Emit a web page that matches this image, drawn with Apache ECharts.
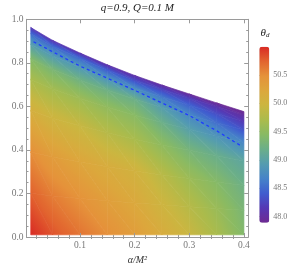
<!DOCTYPE html>
<html><head><meta charset="utf-8">
<script src="https://cdn.jsdelivr.net/npm/echarts@6/dist/echarts.min.js"></script>
<style>html,body{margin:0;padding:0;background:#fff}#c{width:291px;height:267px}</style>
</head><body><div id="c"></div>
<script>
// ---- data ----
const alphaNodes = [0.01, 0.05, 0.1, 0.15, 0.2, 0.25, 0.3, 0.35, 0.4];          // alpha/M^2 columns
const epsBoundary = [0.962, 0.903, 0.845, 0.791, 0.742, 0.698, 0.657, 0.616, 0.576]; // upper edge of the region
const EPS_BOTTOM = 0.01;
const fracLevels = [0, 0.2, 0.4, 0.6, 0.75, 0.85, 0.92, 0.97, 1.0]; // fraction of column height
const thetaA001 = [51.0, 50.75, 50.5, 50.1, 49.7, 49.4, 48.95, 48.5, 48.15];
const thetaA005 = [50.82, 50.6, 50.36, 50.0, 49.65, 49.33, 48.92, 48.5, 48.12];
const thetaA010 = [50.65, 50.47, 50.24, 49.93, 49.6, 49.25, 48.9, 48.5, 48.1];
const thetaA015 = [50.5, 50.33, 50.14, 49.8, 49.52, 49.22, 48.82, 48.4, 48.07];
const thetaA020 = [50.35, 50.2, 50.05, 49.7, 49.45, 49.2, 48.75, 48.3, 48.05];
const thetaA025 = [50.15, 50.0, 49.82, 49.5, 49.2, 48.95, 48.6, 48.25, 48.0];
const thetaA030 = [49.95, 49.8, 49.6, 49.3, 48.97, 48.72, 48.45, 48.2, 47.95];
const thetaA035 = [49.7, 49.58, 49.42, 49.18, 48.84, 48.53, 48.3, 48.1, 47.92];
const thetaA040 = [49.4, 49.33, 49.22, 49.05, 48.7, 48.35, 48.15, 48.0, 47.9];
const thetaColumns = [thetaA001, thetaA005, thetaA010, thetaA015, thetaA020, thetaA025, thetaA030, thetaA035, thetaA040];

const dashAlpha = [0.015, 0.1, 0.2, 0.3, 0.35, 0.397];
const dashEps   = [0.897, 0.785, 0.674, 0.558, 0.488, 0.415];

const xMajorTicks = [0.1, 0.2, 0.3, 0.4];
const xMinorTicks = [0.02,0.04,0.06,0.08,0.12,0.14,0.16,0.18,0.22,0.24,0.26,0.28,0.32,0.34,0.36,0.38];
const yMajorTicks = [0, 0.2, 0.4, 0.6, 0.8, 1.0];
const yMinorTicks = [0.05,0.1,0.15,0.25,0.3,0.35,0.45,0.5,0.55,0.65,0.7,0.75,0.85,0.9,0.95];
const cbTicks = [48.0, 48.5, 49.0, 49.5, 50.0, 50.5];
const TH_MIN = 47.89, TH_MAX = 51.0;
const palette = ['#6e2a92','#5538b4','#405ccf','#4683c8','#549cb0','#6aae8a','#88ba64','#aabb4c','#cbb640','#dca73c','#e5923a','#e2642f','#d92a24'];

const XMIN = 0.0022, XMAX = 0.4078;
const FONT = 'Liberation Serif';
const AX = '#9a9a9a', LABEL = '#777777';

function nodeEps(i, j) { return EPS_BOTTOM + fracLevels[j] * (epsBoundary[i] - EPS_BOTTOM); }

const nodeData = [];
for (let i = 0; i < alphaNodes.length; i++)
  for (let j = 0; j < fracLevels.length; j++)
    nodeData.push([alphaNodes[i], nodeEps(i, j), thetaColumns[i][j], i, j]);

const dashData = dashAlpha.map((a, k) => [a, dashEps[k]]);

function colorOf(v) {
  let t = (v - TH_MIN) / (TH_MAX - TH_MIN);
  t = Math.max(0, Math.min(1, t));
  return echarts.color.lerp(t, palette);
}

function triangle(pts, vals) {
  const [p1, p2, p3] = pts, [v1, v2, v3] = vals;
  const d2x = p2[0]-p1[0], d2y = p2[1]-p1[1], d3x = p3[0]-p1[0], d3y = p3[1]-p1[1];
  const dv2 = v2 - v1, dv3 = v3 - v1;
  const det = d2x*d3y - d2y*d3x;
  let fill;
  const gx = (dv2*d3y - dv3*d2y)/det, gy = (d2x*dv3 - d3x*dv2)/det;
  const g2 = gx*gx + gy*gy;
  if (!isFinite(g2) || g2 < 1e-12) {
    fill = colorOf((v1+v2+v3)/3);
  } else {
    const lo = Math.min(v1, v2, v3), hi = Math.max(v1, v2, v3);
    const sx = p1[0] + (lo - v1)/g2*gx, sy = p1[1] + (lo - v1)/g2*gy;
    const ex = p1[0] + (hi - v1)/g2*gx, ey = p1[1] + (hi - v1)/g2*gy;
    const stops = [];
    const K = 8;
    for (let k = 0; k <= K; k++) stops.push({offset: k/K, color: colorOf(lo + (hi-lo)*k/K)});
    fill = new echarts.graphic.LinearGradient(sx, sy, ex, ey, stops, true);
  }
  return { type: 'polygon', shape: { points: pts }, style: { fill: fill, stroke: fill, lineWidth: 0.7 } };
}

function renderItem(params, api) {
  const i = api.value(3), j = api.value(4);
  if (i >= alphaNodes.length - 1 || j >= fracLevels.length - 1) return null;
  const P = (ii, jj) => api.coord([alphaNodes[ii], nodeEps(ii, jj)]);
  const V = (ii, jj) => thetaColumns[ii][jj];
  const p00 = P(i, j), p10 = P(i+1, j), p01 = P(i, j+1), p11 = P(i+1, j+1);
  return { type: 'group', children: [
    triangle([p00, p10, p01], [V(i,j), V(i+1,j), V(i,j+1)]),
    triangle([p10, p11, p01], [V(i+1,j), V(i+1,j+1), V(i,j+1)])
  ]};
}

function frameAxis(base, extra) { return Object.assign({}, base, extra); }
const xBase = { gridIndex: 0, type: 'value', min: XMIN, max: XMAX, z: 5, splitLine: {show:false} };
const yBase = { gridIndex: 0, type: 'value', min: 0, max: 1, z: 5, splitLine: {show:false} };
const tickStyle = { color: AX, width: 1 };

const chart = echarts.init(document.getElementById('c'), null, { renderer: 'canvas' });
chart.setOption({
  animation: false,
  backgroundColor: '#ffffff',
  grid: [
    { left: 26.5, top: 19.3, width: 221.7, height: 217.7, containLabel: false, outerBoundsMode: 'none' },
    { left: 259.3, top: 46.7, width: 10, height: 176, containLabel: false, outerBoundsMode: 'none' }
  ],
  xAxis: [
    frameAxis(xBase, { position: 'bottom',
      axisLine: { show: true, onZero: false, lineStyle: tickStyle },
      axisTick: { show: true, inside: true, length: 4, customValues: xMajorTicks, lineStyle: tickStyle },
      axisLabel: { show: true, customValues: xMajorTicks, formatter: v => v.toFixed(1), margin: 3, color: LABEL, fontFamily: FONT, fontSize: 9.5 },
      name: 'α/M²', nameLocation: 'middle', nameGap: 17,
      nameTextStyle: { fontFamily: FONT, fontStyle: 'italic', fontSize: 10, color: '#333' } }),
    frameAxis(xBase, { position: 'bottom', axisLine: {show:false},
      axisTick: { show: true, inside: true, length: 2, customValues: xMinorTicks, lineStyle: tickStyle },
      axisLabel: { show: false } }),
    frameAxis(xBase, { position: 'top', axisLine: { show: true, onZero: false, lineStyle: tickStyle },
      axisTick: { show: true, inside: true, length: 4, customValues: xMajorTicks, lineStyle: tickStyle },
      axisLabel: { show: false } }),
    frameAxis(xBase, { position: 'top', axisLine: {show:false},
      axisTick: { show: true, inside: true, length: 2, customValues: xMinorTicks, lineStyle: tickStyle },
      axisLabel: { show: false } }),
    { gridIndex: 1, type: 'value', min: 0, max: 1, show: false }
  ],
  yAxis: [
    frameAxis(yBase, { position: 'left',
      axisLine: { show: true, onZero: false, lineStyle: tickStyle },
      axisTick: { show: true, inside: true, length: 4, customValues: yMajorTicks, lineStyle: tickStyle },
      axisLabel: { show: true, customValues: yMajorTicks, formatter: v => v.toFixed(1), margin: 3, color: LABEL, fontFamily: FONT, fontSize: 9.5 },
      name: 'ε', nameLocation: 'middle', nameGap: 17, nameRotate: 90,
      nameTextStyle: { fontFamily: FONT, fontStyle: 'italic', fontSize: 10, color: '#333' } }),
    frameAxis(yBase, { position: 'left', axisLine: {show:false},
      axisTick: { show: true, inside: true, length: 2, customValues: yMinorTicks, lineStyle: tickStyle },
      axisLabel: { show: false } }),
    frameAxis(yBase, { position: 'right', axisLine: { show: true, onZero: false, lineStyle: tickStyle },
      axisTick: { show: true, inside: true, length: 4, customValues: yMajorTicks, lineStyle: tickStyle },
      axisLabel: { show: false } }),
    frameAxis(yBase, { position: 'right', axisLine: {show:false},
      axisTick: { show: true, inside: true, length: 2, customValues: yMinorTicks, lineStyle: tickStyle },
      axisLabel: { show: false } }),
    { gridIndex: 1, type: 'value', min: TH_MIN, max: TH_MAX, position: 'right',
      axisLine: { show: false },
      axisTick: { show: true, inside: false, length: 2, customValues: cbTicks, lineStyle: tickStyle },
      axisLabel: { show: true, customValues: cbTicks, formatter: v => v.toFixed(1), margin: 4, color: LABEL, fontFamily: FONT, fontSize: 8 },
      splitLine: { show: false } }
  ],
  visualMap: [{
    type: 'continuous', seriesIndex: 0, dimension: 2,
    min: TH_MIN, max: TH_MAX, orient: 'vertical',
    left: 259.3, top: 46.7, itemWidth: 10, itemHeight: 176, padding: 0,
    calculable: false, realtime: false, text: null, showLabel: false,
    inRange: { color: palette }, hoverLink: false
  }],
  graphic: [
    { type: 'text', x: 137.4, y: 8, silent: true,
      style: { text: 'q=0.9, Q=0.1 M', fill: '#222', font: 'italic 11px "Liberation Serif"', textAlign: 'center', textVerticalAlign: 'middle' } },
    { type: 'text', x: 260.5, y: 33, silent: true,
      style: { text: '{a|θ}{b|d}', textVerticalAlign: 'middle',
        rich: { a: { fontFamily: FONT, fontStyle: 'italic', fontSize: 11, fill: '#222' },
                b: { fontFamily: FONT, fontStyle: 'italic', fontSize: 7, fill: '#222', padding: [5, 0, 0, 0] } } } }
  ],
  series: [
    { type: 'custom', coordinateSystem: 'cartesian2d', xAxisIndex: 0, yAxisIndex: 0,
      renderItem: renderItem, data: nodeData, encode: { x: 0, y: 1 }, z: 2, silent: true, clip: false },
    { type: 'line', xAxisIndex: 0, yAxisIndex: 0, data: dashData, symbol: 'none', showSymbol: false,
      lineStyle: { color: '#1f3cff', width: 1.3, type: [3, 3] }, z: 4, silent: true }
  ]
});
</script></body></html>
